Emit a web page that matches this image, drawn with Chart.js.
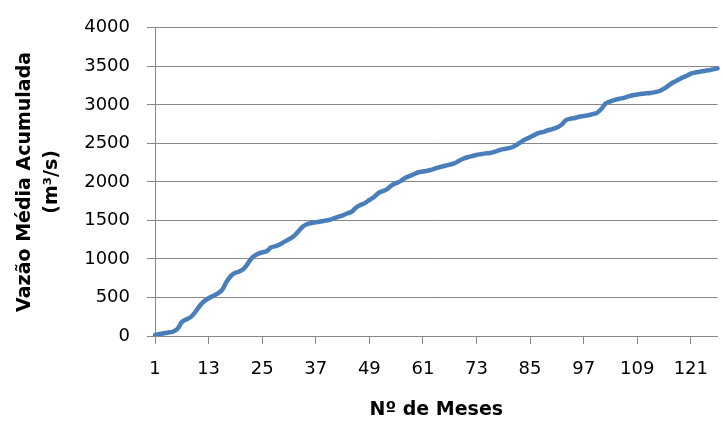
<!DOCTYPE html>
<html>
<head>
<meta charset="utf-8">
<script src="https://cdn.jsdelivr.net/npm/chart.js@4"></script>
<style>
  html, body { margin: 0; padding: 0; background: #fff; overflow: hidden; }
  #wrap { width: 723px; height: 421px; }
</style>
</head>
<body>
<div id="wrap"><canvas id="vazao" width="723" height="421"></canvas></div>
<script>
// meses 1..127
const meses = [];
for (let m = 1; m <= 127; m++) meses.push(String(m));

// vazão média acumulada (m³/s)
const vazaoAcumulada = [
  15, 25, 35, 45, 55, 90, 180, 215, 245, 310,
  390, 450, 490, 520, 550, 595, 700, 780, 820, 840,
  880, 960, 1030, 1065, 1085, 1100, 1150, 1165, 1190, 1225,
  1255, 1290, 1350, 1415, 1450, 1465, 1475, 1485, 1495, 1505,
  1525, 1545, 1565, 1590, 1610, 1665, 1700, 1725, 1765, 1800,
  1855, 1880, 1905, 1955, 1985, 2010, 2050, 2075, 2100, 2125,
  2135, 2145, 2160, 2180, 2195, 2210, 2225, 2240, 2270, 2300,
  2320, 2335, 2350, 2360, 2370, 2375, 2390, 2410, 2425, 2435,
  2450, 2480, 2520, 2555, 2580, 2610, 2635, 2650, 2670, 2685,
  2705, 2740, 2800, 2820, 2830, 2845, 2855, 2865, 2880, 2895,
  2950, 3020, 3045, 3065, 3080, 3090, 3110, 3125, 3135, 3145,
  3150, 3155, 3165, 3180, 3210, 3250, 3290, 3320, 3350, 3375,
  3405, 3420, 3430, 3440, 3450, 3460, 3475
];

const passoRotulo = 12;   // rótulo a cada 12 meses
const eixoY = { min: 0, max: 4000, passo: 500 };

const cinza = '#878787';
const fonte = 'DejaVu Sans';

new Chart(document.getElementById('vazao'), {
  type: 'line',
  data: {
    labels: meses,
    datasets: [{
      label: 'Vazão Média Acumulada',
      data: vazaoAcumulada,
      borderColor: '#4a7ebb',
      backgroundColor: '#4a7ebb',
      borderWidth: 4.5,
      pointRadius: 0,
      tension: 0.3,
      fill: false,
      borderCapStyle: 'round',
      borderJoinStyle: 'round'
    }]
  },
  options: {
    responsive: false,
    animation: false,
    layout: { padding: { top: 25, right: 0, bottom: 0, left: 0 } },
    plugins: {
      legend: { display: false },
      tooltip: { enabled: false }
    },
    scales: {
      x: {
        type: 'category',
        offset: false,
        grid: {
          drawOnChartArea: false,
          drawTicks: true,
          tickLength: 8,
          color: cinza,
          lineWidth: 1
        },
        border: { display: true, color: cinza, width: 1 },
        ticks: {
          autoSkip: false,
          maxRotation: 0,
          minRotation: 0,
          padding: 15,
          color: '#000',
          font: { family: fonte, size: 18 },
          callback: function (value, index) {
            return index % passoRotulo === 0 ? this.getLabelForValue(value) : null;
          }
        },
        title: {
          display: true,
          text: 'Nº de Meses',
          color: '#000',
          font: { family: fonte, size: 19, weight: 'bold', lineHeight: 1.1 },
          padding: { top: 4, bottom: 0 }
        },
        afterFit: s => { s.height = 85; }
      },
      y: {
        min: eixoY.min,
        max: eixoY.max,
        grid: {
          color: cinza,
          lineWidth: 1,
          drawTicks: true,
          tickLength: 8
        },
        border: { display: true, color: cinza, width: 1 },
        ticks: {
          stepSize: eixoY.passo,
          padding: 17,
          color: '#000',
          font: { family: fonte, size: 18 },
          callback: v => String(v)
        },
        title: {
          display: true,
          text: ['Vazão Média Acumulada', '(m³/s)'],
          color: '#000',
          font: { family: fonte, size: 19, weight: 'bold', lineHeight: 1.42 },
          padding: { top: 12, bottom: 4 }
        },
        afterFit: s => { s.width = 155; }
      }
    }
  }
});
</script>
</body>
</html>
